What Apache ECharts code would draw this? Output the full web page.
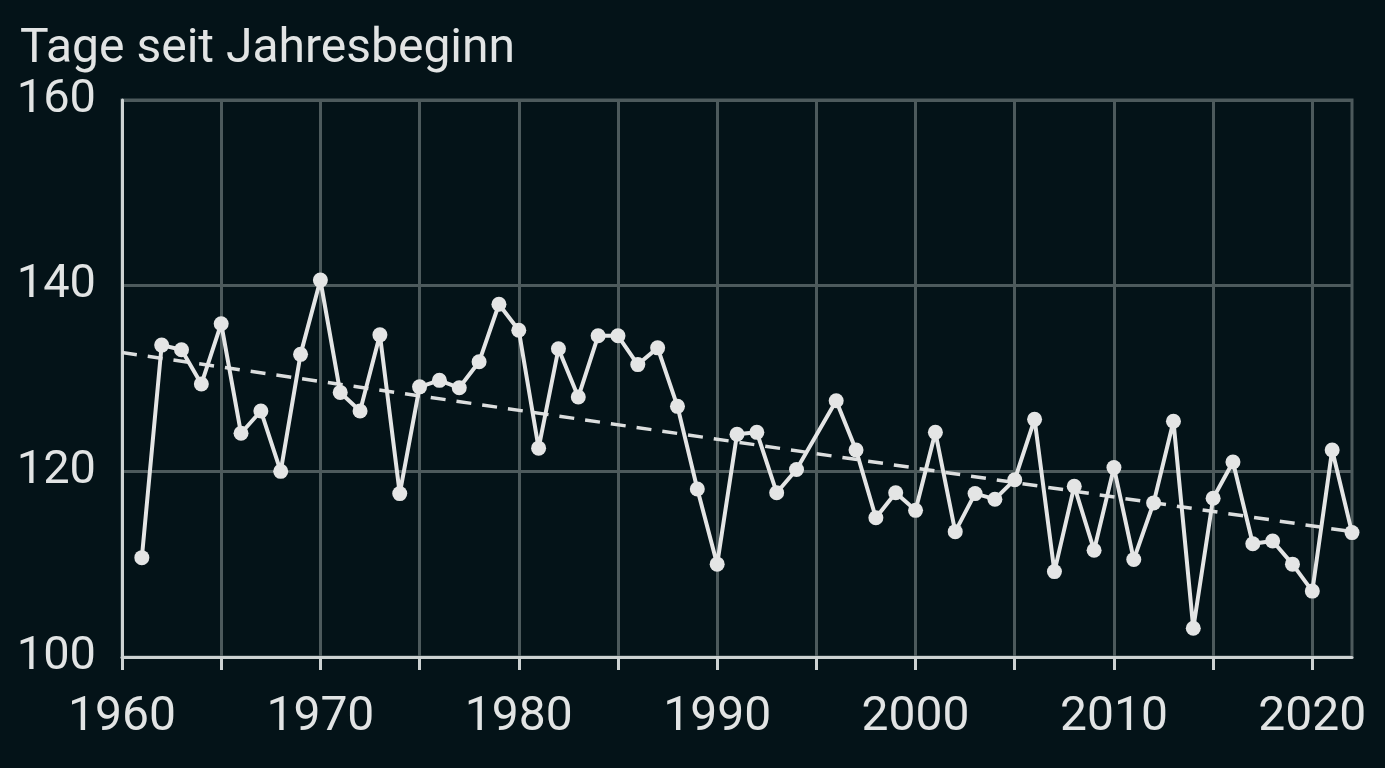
<!DOCTYPE html>
<html>
<head>
<meta charset="utf-8">
<script src="https://cdn.jsdelivr.net/npm/echarts@6/dist/echarts.min.js"></script>
<style>
  html, body { margin: 0; padding: 0; background: #041318; }
  #chart { width: 1385px; height: 768px; }
</style>
</head>
<body>
<div id="chart"></div>
<script>
// Jahre (1995 fehlt im Original, die Linie verbindet 1994 direkt mit 1996)
const years = [
  1961, 1962, 1963, 1964, 1965, 1966, 1967, 1968, 1969, 1970,
  1971, 1972, 1973, 1974, 1975, 1976, 1977, 1978, 1979, 1980,
  1981, 1982, 1983, 1984, 1985, 1986, 1987, 1988, 1989, 1990,
  1991, 1992, 1993, 1994, 1996, 1997, 1998, 1999, 2000,
  2001, 2002, 2003, 2004, 2005, 2006, 2007, 2008, 2009, 2010,
  2011, 2012, 2013, 2014, 2015, 2016, 2017, 2018, 2019, 2020,
  2021, 2022
];
// Tage seit Jahresbeginn
const days = [
  110.7, 133.6, 133.1, 129.4, 135.9, 124.1, 126.5, 120.0, 132.6, 140.6,
  128.5, 126.5, 134.7, 117.6, 129.1, 129.8, 129.0, 131.8, 138.0, 135.2,
  122.5, 133.2, 128.0, 134.6, 134.6, 131.5, 133.3, 127.0, 118.1, 110.0,
  124.0, 124.2, 117.7, 120.2, 127.6, 122.3, 115.0, 117.7, 115.8,
  124.2, 113.5, 117.6, 117.0, 119.1, 125.6, 109.2, 118.4, 111.5, 120.4,
  110.5, 116.6, 125.4, 103.1, 117.1, 121.0, 112.2, 112.5, 110.0, 107.1,
  122.3, 113.4
];
// Trendlinie (Anfang / Ende)
const trendYears = [1960, 2022];
const trendDays = [132.8, 113.5];
// Achsen
const xTicks = [1960, 1965, 1970, 1975, 1980, 1985, 1990, 1995, 2000, 2005, 2010, 2015, 2020];
const yTicks = [100, 120, 140, 160];

const chart = echarts.init(document.getElementById('chart'));

const textColor = '#e2e4e4';
const gridColor = '#4d5a5c';
const axisColor = '#cdd2d2';
const lineColor = '#e4e5e5';

const option = {
  backgroundColor: '#041318',
  animation: false,
  textStyle: { fontFamily: 'Roboto' },
  title: {
    text: 'Tage seit Jahresbeginn',
    left: 15,
    top: 21,
    textStyle: { color: textColor, fontSize: 48, fontWeight: 'normal', fontFamily: 'Roboto' }
  },
  grid: {
    left: 122,
    right: 33,
    top: 100,
    bottom: 111,
    show: true,
    borderColor: gridColor,
    borderWidth: 3
  },
  xAxis: {
    type: 'value',
    min: 1960,
    max: 2022,
    interval: 5,
    axisLine: { show: true, lineStyle: { color: axisColor, width: 3 } },
    axisTick: {
      show: true,
      length: 13,
      customValues: xTicks,
      lineStyle: { color: axisColor, width: 3 }
    },
    axisLabel: {
      color: textColor,
      fontSize: 48,
      margin: 37,
      customValues: xTicks.filter(v => v % 10 === 0),
      formatter: v => String(v)
    },
    splitLine: { show: true, lineStyle: { color: gridColor, width: 3 } }
  },
  yAxis: {
    type: 'value',
    min: 100,
    max: 160,
    interval: 20,
    axisLine: { show: true, lineStyle: { color: axisColor, width: 3 } },
    axisTick: { show: false },
    axisLabel: {
      color: textColor,
      fontSize: 47,
      margin: 26,
      customValues: yTicks
    },
    splitLine: { show: true, lineStyle: { color: gridColor, width: 3 } }
  },
  series: [
    {
      name: 'Trend',
      type: 'line',
      data: trendYears.map((y, i) => [y, trendDays[i]]),
      symbol: 'none',
      silent: true,
      z: 2,
      lineStyle: { color: '#dcdede', width: 3.5, type: [15, 11] }
    },
    {
      name: 'Tage',
      type: 'line',
      data: years.map((y, i) => [y, days[i]]),
      symbol: 'circle',
      symbolSize: 15,
      z: 3,
      itemStyle: { color: lineColor, borderWidth: 0 },
      lineStyle: { color: lineColor, width: 4 }
    }
  ]
};

chart.setOption(option);
</script>
</body>
</html>
